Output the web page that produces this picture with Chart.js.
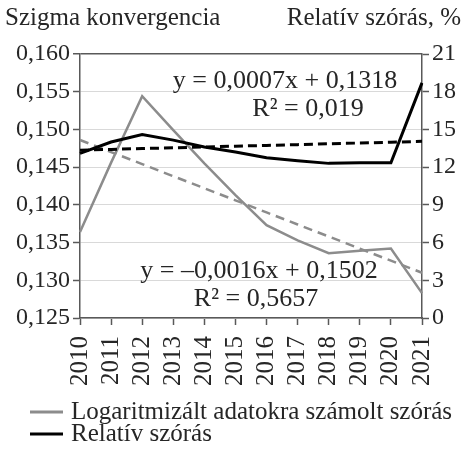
<!DOCTYPE html>
<html>
<head>
<meta charset="utf-8">
<script src="https://cdn.jsdelivr.net/npm/chart.js@4.4.1/dist/chart.umd.min.js"></script>
<style>
 body{ margin:0; background:#fff; }
 #wrap{ width:463px; height:455px; position:relative; }
</style>
</head>
<body>
<div id="wrap"><canvas id="chart"></canvas></div>
<script>
const years = ['2010','2011','2012','2013','2014','2015','2016','2017','2018','2019','2020','2021'];
const logStd = [0.1364,0.1456,0.1544,0.1499,0.1455,0.1413,0.1373,0.1353,0.1336,0.1339,0.1342,0.1283];
const relStd = [13.1,14.0,14.6,14.15,13.6,13.2,12.75,12.5,12.3,12.35,12.35,18.7];
const logTrend = [0.1486,0.1470,0.1454,0.1438,0.1422,0.1406,0.1390,0.1374,0.1358,0.1342,0.1326,0.1310];
const relTrend = [13.35,13.41,13.48,13.54,13.60,13.67,13.73,13.79,13.86,13.92,13.98,14.05];
const seriesNames = ['Logaritmizált adatokra számolt szórás','Relatív szórás'];
const leftTitle = 'Szigma konvergencia';
const rightTitle = 'Relatív szórás, %';
const eqRel = ['y = 0,0007x + 0,1318','R² = 0,019'];
const eqLog = ['y = –0,0016x + 0,1502','R² = 0,5657'];

const FONT = '"Liberation Serif", "Times New Roman", serif';
const FS = 24;
const TXT = '#262626';
const AXIS = '#595959';
const GRAY = '#8c8c8c';

const extras = {
 id:'extras',
 afterDraw(c){
   const ctx = c.ctx;
   ctx.save();
   ctx.fillStyle = TXT;
   ctx.font = '25px ' + FONT;
   ctx.textBaseline = 'middle';
   ctx.textAlign = 'left';
   ctx.fillText(leftTitle, 5, 18);
   ctx.textAlign = 'right';
   ctx.fillText(rightTitle, 461, 18);

   // trend labels
   ctx.font = '26px ' + FONT;
   ctx.textAlign = 'center';
   ctx.fillText(eqRel[0], 285, 81);
   ctx.fillText(eqRel[1], 308, 109);
   ctx.fillText(eqLog[0], 259, 271);
   ctx.fillText(eqLog[1], 256, 299);

   // legend
   ctx.font = '25px ' + FONT;
   const rows = [[GRAY, seriesNames[0], 412],[ '#000', seriesNames[1], 434]];
   rows.forEach(r=>{
     ctx.strokeStyle = r[0];
     ctx.lineWidth = 3;
     ctx.beginPath();
     ctx.moveTo(30, r[2]); ctx.lineTo(63, r[2]);
     ctx.stroke();
     ctx.textAlign = 'left';
     ctx.fillText(r[1], 71, r[2]);
   });
   ctx.restore();
 }
};

new Chart(document.getElementById('chart'),{
 type:'line',
 data:{
   labels:years,
   datasets:[
     { label:seriesNames[0], data:logStd, yAxisID:'y', borderColor:GRAY, borderWidth:2.5, order:2 },
     { label:seriesNames[1], data:relStd, yAxisID:'y2', borderColor:'#000', borderWidth:3, order:1 },
     { label:'trend1', data:logTrend, yAxisID:'y', borderColor:GRAY, borderWidth:2.5, borderDash:[9,6], order:3 },
     { label:'trend2', data:relTrend, yAxisID:'y2', borderColor:'#000', borderWidth:3, borderDash:[9,5], order:0 }
   ]
 },
 options:{
   responsive:true,
   maintainAspectRatio:false,
   animation:false,
   elements:{ point:{ radius:0 }, line:{ tension:0, borderCapStyle:'butt', borderJoinStyle:'miter' } },
   layout:{ padding:{ top:54, left:0, right:0, bottom:0 } },
   plugins:{ legend:{ display:false }, tooltip:{ enabled:false } },
   scales:{
     x:{
       offset:false,
       afterFit(s){ s.height = 137; },
       border:{ color:AXIS, width:1.5 },
       grid:{ drawOnChartArea:false, tickLength:7, tickColor:AXIS, tickWidth:1.5, offset:false },
       ticks:{ minRotation:90, maxRotation:90, autoSkip:false, padding:11, color:TXT, font:{ family:FONT, size:25 } }
     },
     y:{
       position:'left',
       min:0.125, max:0.160,
       afterFit(s){ s.width = 80; },
       border:{ color:AXIS, width:1.5 },
       grid:{
         color:t => Math.abs(t.tick.value - 0.16) < 1e-9 ? AXIS : '#d9d9d9',
         lineWidth:t => Math.abs(t.tick.value - 0.16) < 1e-9 ? 1.5 : 1,
         tickLength:7, tickColor:AXIS, tickWidth:1.5
       },
       ticks:{ stepSize:0.005, padding:3, color:TXT, font:{ family:FONT, size:FS },
         callback:v => v.toFixed(3).replace('.', ',') }
     },
     y2:{
       position:'right',
       min:0, max:21,
       afterFit(s){ s.width = 40; },
       border:{ color:AXIS, width:1.5 },
       grid:{ drawOnChartArea:false, tickLength:7, tickColor:AXIS, tickWidth:1.5 },
       ticks:{ stepSize:3, padding:3, color:TXT, font:{ family:FONT, size:FS } }
     }
   }
 },
 plugins:[extras]
});
</script>
</body>
</html>
